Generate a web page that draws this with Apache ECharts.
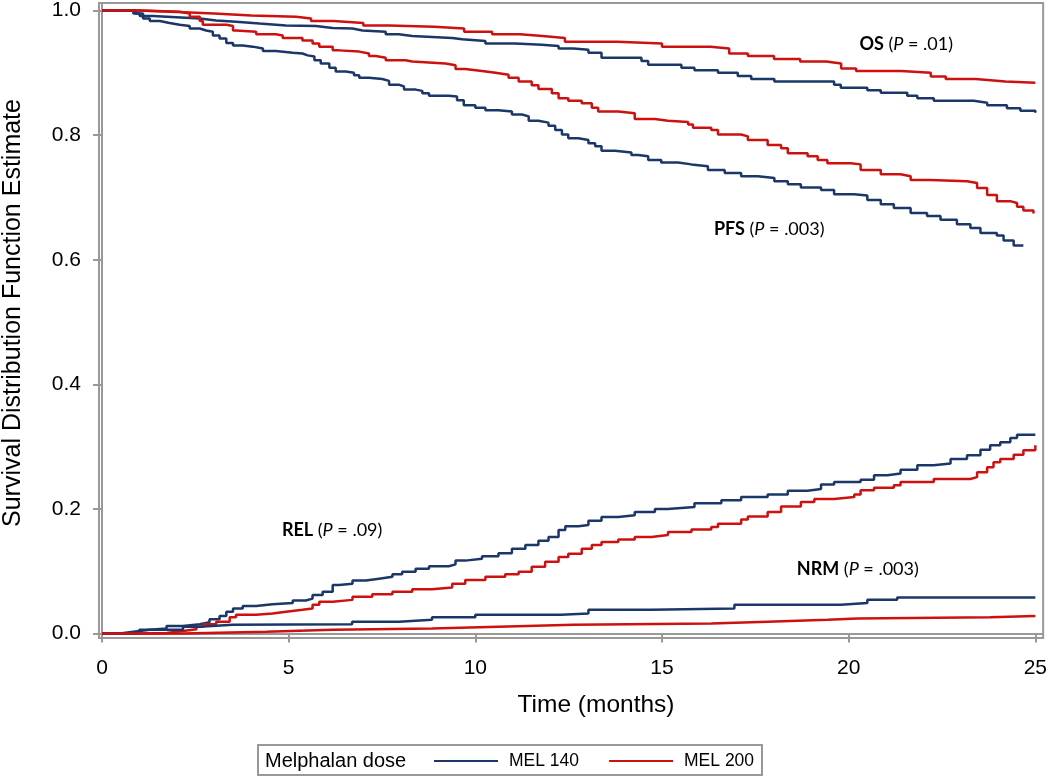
<!DOCTYPE html>
<html>
<head>
<meta charset="utf-8">
<script src="https://cdn.jsdelivr.net/npm/echarts@6/dist/echarts.min.js"></script>
<style>
  html, body { margin: 0; padding: 0; background: #fff; }
  #main { width: 1050px; height: 777px; }
</style>
</head>
<body>
<div id="main"></div>
<script>
// Kaplan-Meier style curves: [months, estimate]
const os140 = [[0, 1], [0.84, 0.995], [1.01, 0.991], [1.37, 0.989], [1.99, 0.987], [2.62, 0.984], [3.06, 0.982], [3.59, 0.979], [4.22, 0.976], [4.93, 0.975], [5.73, 0.972], [6.18, 0.971], [6.71, 0.968], [6.98, 0.966], [7.6, 0.962], [7.95, 0.959], [8.31, 0.956], [9.38, 0.954], [9.65, 0.951], [10.27, 0.947], [11.07, 0.945], [11.78, 0.943], [12.23, 0.939], [12.63, 0.937], [13.03, 0.932], [13.38, 0.924], [14.45, 0.919], [14.63, 0.913], [15.52, 0.908], [15.87, 0.904], [16.5, 0.9], [17.03, 0.895], [17.39, 0.89], [18.01, 0.886], [19.61, 0.881], [19.79, 0.876], [20.5, 0.872], [20.86, 0.868], [21.57, 0.863], [21.84, 0.859], [22.28, 0.855], [23.35, 0.852], [23.71, 0.848], [24.24, 0.843], [24.6, 0.839], [25, 0.836]];
const os200 = [[0, 1], [1.0, 0.997], [2.2, 0.995], [3.0, 0.992], [4.0, 0.99], [5.2, 0.987], [5.6, 0.983], [6.2, 0.98], [7.0, 0.976], [7.7, 0.974], [8.9, 0.971], [9.7, 0.966], [10.45, 0.962], [11.2, 0.959], [11.8, 0.956], [12.4, 0.95], [13.8, 0.947], [15.0, 0.942], [16.3, 0.939], [16.8, 0.931], [17.3, 0.927], [18.0, 0.922], [18.7, 0.918], [19.4, 0.915], [19.8, 0.907], [20.2, 0.903], [21.4, 0.9], [22.2, 0.894], [22.6, 0.89], [23.4, 0.888], [23.8, 0.886], [24.2, 0.884], [25, 0.884]];
const pfs140 = [[0, 1], [0.9, 0.995], [1.1, 0.987], [1.28, 0.983], [1.55, 0.98], [1.81, 0.977], [2.08, 0.975], [2.35, 0.971], [2.62, 0.968], [2.79, 0.966], [2.97, 0.96], [3.15, 0.955], [3.33, 0.948], [3.51, 0.944], [3.77, 0.942], [4.04, 0.939], [4.31, 0.935], [4.66, 0.932], [5.11, 0.931], [5.37, 0.928], [5.51, 0.926], [5.69, 0.92], [5.86, 0.915], [6.09, 0.908], [6.26, 0.902], [6.53, 0.9], [6.75, 0.896], [6.89, 0.892], [7.15, 0.89], [7.51, 0.887], [7.69, 0.881], [7.95, 0.878], [8.09, 0.873], [8.4, 0.871], [8.58, 0.867], [8.76, 0.863], [9.29, 0.862], [9.51, 0.856], [9.69, 0.848], [10.0, 0.844], [10.27, 0.84], [10.62, 0.838], [10.98, 0.833], [11.25, 0.83], [11.43, 0.823], [11.69, 0.82], [11.96, 0.815], [12.14, 0.808], [12.32, 0.801], [12.49, 0.795], [12.76, 0.792], [13.03, 0.787], [13.21, 0.782], [13.38, 0.775], [13.74, 0.772], [14.18, 0.768], [14.36, 0.766], [14.63, 0.76], [14.98, 0.756], [15.43, 0.753], [15.79, 0.75], [16.23, 0.744], [16.68, 0.739], [17.12, 0.734], [17.57, 0.731], [18.01, 0.726], [18.37, 0.721], [18.72, 0.716], [19.26, 0.712], [19.61, 0.705], [20.15, 0.703], [20.5, 0.696], [20.86, 0.689], [21.21, 0.683], [21.66, 0.675], [22.1, 0.67], [22.46, 0.664], [22.9, 0.657], [23.26, 0.651], [23.53, 0.643], [23.97, 0.639], [24.15, 0.631], [24.42, 0.623], [24.68, 0.623]];
const pfs200 = [[0, 1], [1.0, 0.998], [2.08, 0.995], [2.35, 0.99], [2.62, 0.983], [2.7, 0.977], [3.33, 0.975], [3.51, 0.968], [3.59, 0.966], [4.13, 0.962], [4.66, 0.96], [4.84, 0.956], [5.37, 0.952], [5.64, 0.947], [5.82, 0.942], [6.18, 0.936], [6.35, 0.934], [6.89, 0.931], [7.15, 0.927], [7.33, 0.924], [7.6, 0.92], [8.13, 0.918], [8.31, 0.915], [9.2, 0.912], [9.47, 0.906], [9.73, 0.903], [10.18, 0.9], [10.54, 0.897], [10.89, 0.892], [11.16, 0.886], [11.51, 0.88], [11.69, 0.874], [12.05, 0.867], [12.23, 0.859], [12.49, 0.855], [12.85, 0.851], [13.12, 0.844], [13.29, 0.838], [13.83, 0.835], [14.27, 0.826], [14.81, 0.823], [15.16, 0.821], [15.7, 0.817], [15.83, 0.812], [16.32, 0.808], [16.5, 0.801], [17.12, 0.798], [17.3, 0.792], [17.83, 0.784], [18.19, 0.779], [18.37, 0.771], [18.9, 0.766], [19.17, 0.76], [19.43, 0.755], [20.06, 0.753], [20.32, 0.744], [20.86, 0.737], [21.39, 0.734], [21.66, 0.728], [22.19, 0.726], [23.17, 0.723], [23.44, 0.715], [23.71, 0.704], [23.97, 0.694], [24.33, 0.691], [24.51, 0.685], [24.68, 0.679], [24.95, 0.674]];
const rel140 = [[0, 0], [0.48, 0.003], [0.84, 0.006], [1.28, 0.008], [1.73, 0.012], [2.17, 0.015], [2.62, 0.018], [2.88, 0.023], [3.15, 0.028], [3.33, 0.035], [3.51, 0.04], [3.77, 0.044], [4.13, 0.047], [4.57, 0.049], [5.11, 0.053], [5.46, 0.056], [5.64, 0.062], [5.91, 0.067], [6.18, 0.078], [6.35, 0.08], [6.71, 0.085], [7.07, 0.088], [7.42, 0.091], [7.78, 0.095], [8.04, 0.099], [8.4, 0.104], [8.76, 0.108], [9.29, 0.111], [9.47, 0.117], [9.73, 0.12], [10.18, 0.124], [10.62, 0.129], [10.98, 0.136], [11.34, 0.142], [11.69, 0.149], [11.96, 0.155], [12.23, 0.166], [12.41, 0.172], [12.76, 0.174], [13.03, 0.181], [13.38, 0.187], [13.83, 0.19], [14.27, 0.195], [14.81, 0.2], [15.16, 0.203], [15.87, 0.209], [16.59, 0.214], [17.12, 0.219], [17.83, 0.223], [18.37, 0.229], [18.9, 0.232], [19.26, 0.239], [19.61, 0.243], [20.32, 0.247], [20.68, 0.254], [21.04, 0.257], [21.39, 0.263], [21.84, 0.27], [22.28, 0.273], [22.73, 0.28], [23.17, 0.286], [23.53, 0.295], [23.79, 0.302], [24.06, 0.307], [24.33, 0.314], [24.51, 0.319], [25, 0.319]];
const rel200 = [[0, 0], [1.01, 0.001], [1.73, 0.004], [2.17, 0.007], [2.53, 0.011], [2.71, 0.015], [3.06, 0.019], [3.42, 0.026], [3.59, 0.03], [4.13, 0.032], [4.57, 0.035], [4.93, 0.038], [5.37, 0.04], [5.64, 0.046], [5.82, 0.051], [6.18, 0.054], [6.71, 0.059], [7.24, 0.063], [7.78, 0.067], [8.31, 0.071], [8.84, 0.074], [9.38, 0.08], [9.73, 0.086], [10.27, 0.091], [10.8, 0.095], [11.16, 0.099], [11.51, 0.107], [11.87, 0.115], [12.23, 0.123], [12.49, 0.128], [12.85, 0.136], [13.12, 0.142], [13.38, 0.147], [13.83, 0.151], [14.27, 0.155], [14.72, 0.158], [15.16, 0.163], [15.79, 0.167], [16.32, 0.171], [16.5, 0.176], [17.12, 0.183], [17.3, 0.188], [17.83, 0.195], [18.19, 0.204], [18.72, 0.211], [19.08, 0.216], [19.61, 0.219], [20.15, 0.223], [20.32, 0.23], [20.68, 0.234], [21.21, 0.238], [21.39, 0.243], [22.28, 0.248], [23.26, 0.251], [23.44, 0.259], [23.71, 0.267], [23.88, 0.275], [24.06, 0.28], [24.42, 0.287], [24.68, 0.294], [25, 0.302]];
const nrm140 = [[0, 0], [1.0, 0.006], [2.17, 0.011], [2.62, 0.014], [3.5, 0.015], [6.7, 0.019], [7.96, 0.022], [8.84, 0.026], [10.0, 0.03], [12.3, 0.032], [13.03, 0.038], [14.72, 0.04], [16.94, 0.046], [19.79, 0.049], [20.5, 0.054], [21.3, 0.058], [25, 0.058]];
const nrm200 = [[0, 0], [2.17, 0.003], [4.4, 0.006], [6.18, 0.008], [8.84, 0.011], [10.62, 0.014], [12.63, 0.016], [16.32, 0.019], [17.83, 0.022], [19.43, 0.024], [20.23, 0.026], [23.79, 0.028], [25, 0.028]];

const xTicks = [0, 5, 10, 15, 20, 25];
const yTicks = [0, 0.2, 0.4, 0.6, 0.8, 1.0];
const groups = ['MEL 140', 'MEL 200'];

// curve labels: [text (rich), x in months, y estimate]
const notes = [
  ['{b|OS} ({i|P} = .01)', 20.29, 0.946],
  ['{b|PFS} ({i|P} = .003)', 16.39, 0.649],
  ['{b|REL} ({i|P} = .09)', 4.82, 0.166],
  ['{b|NRM} ({i|P} = .003)', 18.61, 0.104],
];

const BLUE = '#1b3768';
const RED = '#cc1111';
const AXIS = '#999999';
const FONT = 'Liberation Sans, Arial, sans-serif';
const NOTE_FONT = 'Lato, Open Sans, sans-serif';

const chart = echarts.init(document.getElementById('main'));

function curve(name, color, data) {
  return {
    name,
    type: 'line',
    step: 'end',
    showSymbol: false,
    silent: true,
    lineStyle: { color, width: 2.5 },
    itemStyle: { color },
    data,
  };
}

chart.setOption({
  backgroundColor: '#fff',
  animation: false,
  textStyle: { fontFamily: FONT },
  grid: {
    left: 99,
    right: 4,
    top: 1,
    bottom: 139,
    show: true,
    borderColor: AXIS,
    borderWidth: 2,
  },
  legend: {
    data: groups,
    left: 434,
    top: 752,
    padding: 0,
    icon: 'rect',
    itemWidth: 64,
    itemHeight: 2,
    itemGap: 30,
    selectedMode: false,
    textStyle: { fontSize: 17.5, color: '#000', padding: [0, 0, 0, 6] },
  },
  xAxis: {
    type: 'value',
    min: -0.08,
    max: 25.21,
    splitLine: { show: false },
    axisLine: { lineStyle: { color: AXIS, width: 2 } },
    axisTick: { length: 9, lineStyle: { color: AXIS, width: 2 }, customValues: xTicks },
    axisLabel: { fontSize: 21, color: '#000', margin: 20, customValues: xTicks },
  },
  yAxis: {
    type: 'value',
    min: -0.0072,
    max: 1.012,
    splitLine: { show: false },
    axisLine: { lineStyle: { color: AXIS, width: 2 } },
    axisTick: { length: 9, lineStyle: { color: AXIS, width: 2 }, customValues: yTicks },
    axisLabel: {
      fontSize: 21,
      color: '#000',
      margin: 18,
      customValues: yTicks,
      formatter: (v) => v.toFixed(1),
    },
  },
  series: [
    curve(groups[0], BLUE, os140),
    curve(groups[1], RED, os200),
    curve(groups[0], BLUE, pfs140),
    curve(groups[1], RED, pfs200),
    curve(groups[0], BLUE, rel140),
    curve(groups[1], RED, rel200),
    curve(groups[0], BLUE, nrm140),
    curve(groups[1], RED, nrm200),
  ],
});

// axis titles, legend frame and title, curve labels
const graphics = [
  {
    type: 'text',
    x: 13,
    y: 313,
    rotation: Math.PI / 2,
    style: {
      text: 'Survival Distribution Function Estimate',
      fontSize: 25,
      fontFamily: FONT,
      fill: '#000',
      align: 'center',
      verticalAlign: 'middle',
    },
  },
  {
    type: 'text',
    x: 596,
    y: 705,
    style: {
      text: 'Time (months)',
      fontSize: 24.5,
      fontFamily: FONT,
      fill: '#000',
      align: 'center',
      verticalAlign: 'middle',
    },
  },
  {
    type: 'rect',
    shape: { x: 258, y: 745, width: 504, height: 30 },
    style: { fill: 'none', stroke: AXIS, lineWidth: 2 },
    z: -1,
  },
  {
    type: 'text',
    x: 265,
    y: 761,
    style: {
      text: 'Melphalan dose',
      fontSize: 20,
      fontFamily: FONT,
      fill: '#000',
      align: 'left',
      verticalAlign: 'middle',
    },
  },
];

notes.forEach(([text, t, v]) => {
  const [px, py] = chart.convertToPixel({ gridIndex: 0 }, [t, v]);
  graphics.push({
    type: 'text',
    x: px,
    y: py,
    style: {
      text,
      fontSize: 18,
      fontFamily: NOTE_FONT,
      fill: '#000',
      align: 'left',
      verticalAlign: 'middle',
      rich: {
        b: { fontWeight: 'bold', fontSize: 18, fontFamily: NOTE_FONT },
        i: { fontStyle: 'italic', fontSize: 18, fontFamily: NOTE_FONT },
      },
    },
  });
});

chart.setOption({ graphic: graphics });
</script>
</body>
</html>
